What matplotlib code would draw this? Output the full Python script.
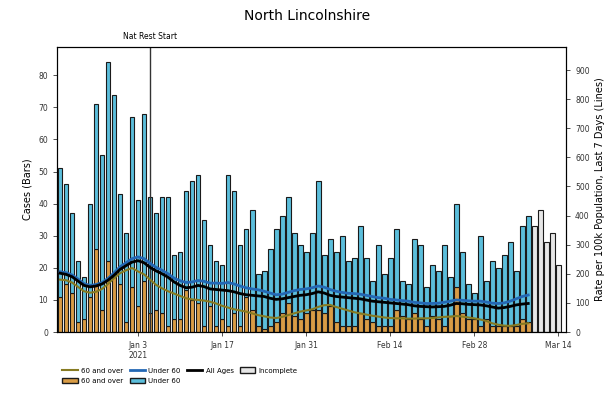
import numpy as np
import matplotlib

matplotlib.use("Agg")
import matplotlib.pyplot as plt  # noqa: E402
import matplotlib.dates as mdates  # noqa: E402
from matplotlib.patches import Patch  # noqa: E402
from matplotlib.lines import Line2D  # noqa: E402

START = np.datetime64("2020-12-21")
INCOMPLETE_START = np.datetime64("2021-03-10")
LOCKDOWN = np.datetime64("2021-01-05")

# daily cases (bars), complete days Dec 21 .. Mar 9
total_cases = [51, 46, 37, 22, 17, 40, 71, 55, 84, 74, 43, 31, 67, 41, 68,
               42, 37, 42, 42, 24, 25, 44, 47, 49, 35, 27, 22, 21, 49, 44,
               27, 32, 38, 18, 19, 26, 32, 36, 42, 31, 27, 25, 31, 47, 24,
               29, 25, 30, 22, 23, 33, 23, 16, 27, 18, 23, 32, 16, 15, 29,
               27, 14, 21, 19, 27, 17, 40, 25, 15, 12, 30, 16, 22, 20, 24,
               28, 19, 33, 36]
over60_cases = [11, 15, 12, 3, 4, 11, 26, 7, 22, 17, 15, 3, 14, 8, 16,
                6, 7, 6, 2, 4, 4, 13, 10, 9, 2, 8, 2, 4, 2, 6,
                2, 11, 7, 2, 1, 2, 3, 6, 9, 5, 4, 6, 7, 7, 6,
                8, 3, 2, 2, 2, 6, 4, 3, 2, 2, 2, 7, 5, 4, 6,
                4, 2, 5, 4, 2, 5, 14, 6, 4, 4, 2, 4, 2, 2, 2,
                2, 2, 4, 3]
# incomplete days Mar 10 .. Mar 14
incomplete_cases = [33, 38, 28, 31, 21]

# 7-day rate per 100k (lines), Dec 21 .. Mar 9
rate_all = [202, 198, 190, 175, 160, 155, 158, 165, 178, 195, 215, 228, 240,
            245, 238, 222, 210, 200, 188, 172, 160, 152, 154, 160, 156, 148,
            146, 144, 142, 138, 132, 128, 126, 124, 122, 116, 112, 114, 118,
            122, 126, 128, 132, 138, 134, 126, 122, 120, 118, 116, 114, 110,
            106, 104, 102, 100, 98, 96, 94, 90, 88, 87, 86, 87, 88, 92, 98,
            97, 95, 94, 93, 90, 86, 82, 84, 88, 93, 96, 98]
rate_under60 = [207, 204, 196, 182, 166, 160, 163, 170, 184, 203, 224, 238,
                252, 258, 252, 236, 222, 212, 200, 185, 176, 170, 172, 177,
                174, 168, 168, 167, 170, 165, 158, 152, 148, 145, 140, 134,
                128, 130, 136, 142, 146, 148, 152, 158, 154, 146, 140, 136,
                133, 132, 130, 126, 122, 118, 116, 112, 110, 108, 106, 102,
                100, 98, 98, 99, 102, 106, 110, 109, 107, 106, 106, 103, 99,
                98, 100, 106, 114, 122, 127]
rate_over60 = [180, 178, 170, 155, 140, 135, 138, 148, 165, 185, 202, 212,
               220, 208, 198, 180, 162, 150, 140, 132, 124, 116, 112, 110,
               108, 104, 98, 90, 84, 78, 74, 70, 64, 58, 54, 50, 48, 52, 58,
               64, 70, 74, 78, 86, 92, 93, 86, 80, 74, 68, 64, 60, 56, 53,
               50, 48, 47, 47, 46, 46, 47, 47, 48, 50, 52, 53, 55, 53, 50,
               47, 43, 38, 30, 25, 22, 21, 24, 28, 30]

C_OVER = "#d99c45"
C_UNDER = "#5bbedb"
C_INC = "#e6e6e6"
L_OVER = "#877b22"
L_UNDER = "#2468b4"

total = np.array(total_cases)
over = np.array(over60_cases)
days = mdates.date2num(START + np.arange(len(total)).astype("timedelta64[D]"))
inc_days = mdates.date2num(
    INCOMPLETE_START + np.arange(len(incomplete_cases)).astype("timedelta64[D]"))

fig = plt.figure(figsize=(6.15, 3.97), dpi=100)
ax = fig.add_axes([0.0927, 0.1637, 0.8277, 0.7179])
ax2 = ax.twinx()

bar_kw = dict(width=0.8, edgecolor="#1a1a1a", linewidth=0.8)
ax.bar(days, over, color=C_OVER, **bar_kw)
ax.bar(days, total - over, bottom=over, color=C_UNDER, **bar_kw)
ax.bar(inc_days, incomplete_cases, color=C_INC, **bar_kw)

lock = mdates.date2num(LOCKDOWN)
ax.axvline(lock, color="#333333", lw=1)
ax.annotate("Nat Rest Start", xy=(lock, 1), xycoords=("data", "axes fraction"),
            xytext=(0, 4), textcoords="offset points", ha="center", va="bottom",
            fontsize=5.5)

ax2.plot(days, rate_over60, color=L_OVER, lw=1.5)
ax2.plot(days, rate_under60, color=L_UNDER, lw=2)
ax2.plot(days, rate_all, color="black", lw=2)

ax.set_xlim(days[0] - 0.5, inc_days[-1] + 1.3)
ax.set_ylim(0, 88.8)
ax2.set_ylim(0, 979)
ax.set_yticks(range(0, 90, 10))
ax2.set_yticks(range(0, 1000, 100))

ticks = [np.datetime64(d) for d in
         ["2021-01-03", "2021-01-17", "2021-01-31", "2021-02-14", "2021-02-28", "2021-03-14"]]
ax.set_xticks(mdates.date2num(ticks))
ax.set_xticklabels(["Jan 3\n2021", "Jan 17", "Jan 31", "Feb 14", "Feb 28", "Mar 14"])

for a in (ax, ax2):
    a.tick_params(labelsize=5.5, length=3, width=0.6, colors="#333333")
    for s in a.spines.values():
        s.set_linewidth(0.8)

ax.set_ylabel("Cases (Bars)", fontsize=7)
ax2.set_ylabel("Rate per 100k Population, Last 7 Days (Lines)", fontsize=7)
fig.text(0.5, 0.96, "North Lincolnshire", ha="center", va="center", fontsize=10)

handles = [
    Line2D([], [], color=L_OVER, lw=1.5),
    Patch(facecolor=C_OVER, edgecolor="#1a1a1a"),
    Line2D([], [], color=L_UNDER, lw=2),
    Patch(facecolor=C_UNDER, edgecolor="#1a1a1a"),
    Line2D([], [], color="black", lw=2),
    Patch(facecolor=C_INC, edgecolor="#1a1a1a"),
]
labels = ["60 and over", "60 and over", "Under 60", "Under 60", "All Ages", "Incomplete"]
fig.legend(handles, labels, loc="upper left", bbox_to_anchor=(0.097, 0.082), ncol=4,
           frameon=False, fontsize=5, handlelength=2.2, handleheight=0.9,
           columnspacing=0.9, handletextpad=0.5, labelspacing=0.6, borderaxespad=0)

fig.savefig("out.png", dpi=100)
